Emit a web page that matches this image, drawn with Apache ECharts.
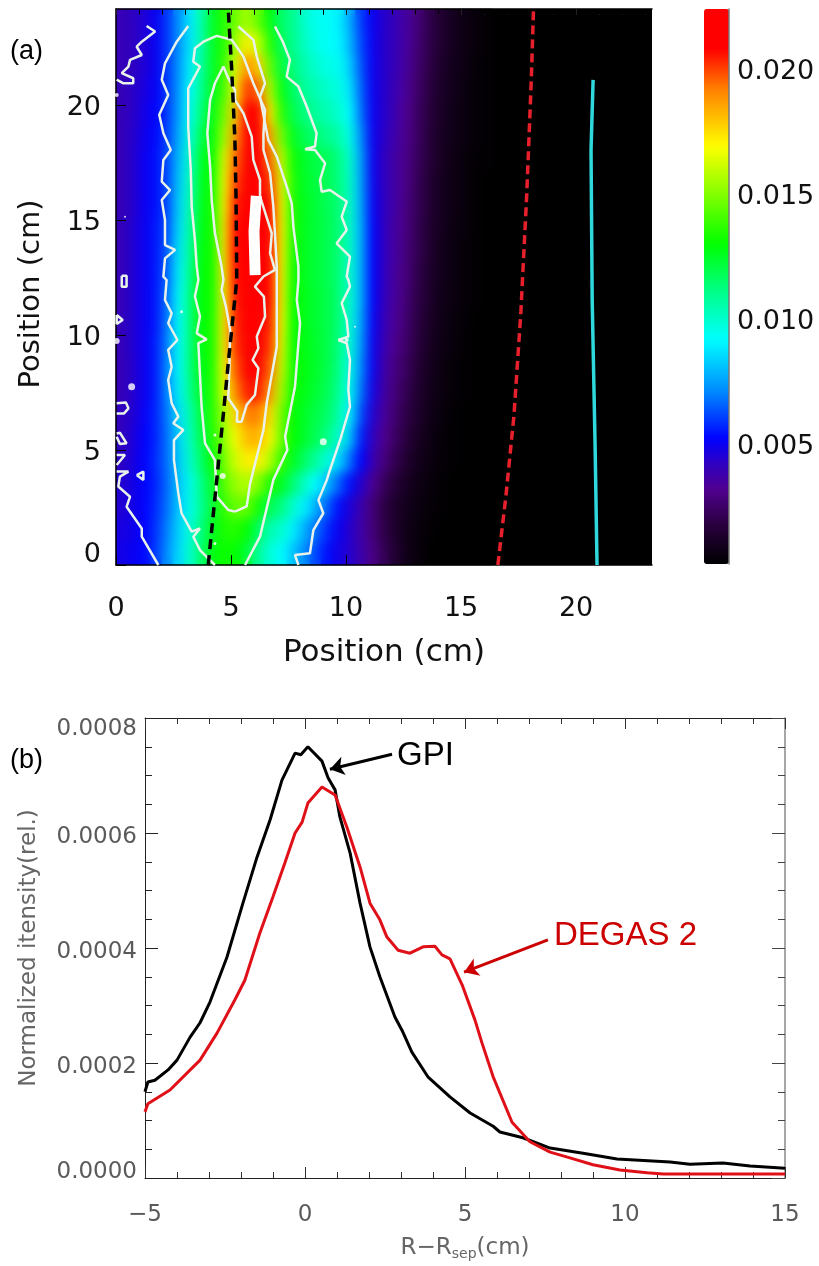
<!DOCTYPE html>
<html>
<head>
<meta charset="utf-8">
<title>GPI vs DEGAS 2</title>
<script src="https://cdn.jsdelivr.net/npm/echarts@6/dist/echarts.min.js"></script>
<style>
html,body{margin:0;padding:0;background:#fff;}
#heat,#main{position:absolute;left:0;top:0;width:819px;height:1266px;}
/* softens the heatmap cells only, axes and lines sit in #main above it */
#soft{position:absolute;left:116px;top:9px;width:536px;height:556px;-webkit-backdrop-filter:blur(6px);backdrop-filter:blur(6px);}
</style>
</head>
<body>
<div id="heat"></div>
<div id="soft"></div>
<div id="main"></div>
<script>
// panel (a): image values in units of 1e-4, rows from top of the image to the bottom,
// columns every ~0.5 cm from the left edge. Everything right of the table is black.
var intensityRows = [
[40,42,46,50,60,72,88,105,125,135,148,155,145,128,115,110,100,95,93,90,78,60,50,44,40,35,28,20,14,10,7,5,3],
[40,42,46,50,60,72,88,105,125,135,155,172,160,135,118,110,102,96,93,91,80,62,50,44,40,35,27,20,14,10,7,5,3],
[40,42,46,50,60,73,90,107,125,137,165,190,178,145,122,113,105,100,96,94,84,64,50,44,40,34,26,19,13,9,7,4,3],
[40,43,47,51,60,74,92,110,126,140,172,202,195,158,128,116,108,104,100,97,88,66,50,44,39,33,25,18,12,9,6,4,3],
[40,43,48,52,60,75,94,114,128,148,180,208,208,172,136,120,112,108,104,100,92,68,50,44,38,32,24,17,12,8,6,4,3],
[40,44,49,53,61,77,97,120,129,155,188,210,212,185,148,126,118,114,110,106,96,72,50,43,37,31,24,16,11,8,6,4,3],
[40,44,50,54,62,80,100,125,130,165,195,212,214,195,160,132,124,120,118,112,100,75,50,42,36,30,23,16,11,7,5,3,3],
[40,44,50,54,62,82,102,126,131,168,200,215,218,202,165,134,125,121,118,113,101,76,50,42,36,30,22,15,10,7,5,3,2],
[40,44,50,54,62,84,104,127,132,170,205,218,222,208,168,134,126,122,118,114,101,77,51,42,36,29,22,15,10,7,5,3,2],
[40,45,50,55,63,86,106,128,132,172,208,222,224,212,170,134,126,122,119,114,101,78,52,42,35,29,21,14,10,6,5,3,2],
[40,45,50,55,65,88,108,129,132,173,208,224,224,212,170,133,126,122,119,114,101,78,52,42,35,28,21,14,9,6,4,3,2],
[40,45,50,55,66,90,110,130,132,173,207,224,224,210,170,132,126,122,119,114,100,78,52,42,34,28,20,13,9,6,4,3,2],
[40,45,50,55,68,92,112,130,132,172,206,224,224,208,169,131,127,123,120,114,100,78,52,41,34,27,19,13,8,6,4,3,2],
[40,45,50,55,69,92,112,130,133,172,204,222,222,205,168,131,127,123,120,114,99,76,51,40,33,26,18,12,8,5,4,2,2],
[40,45,50,56,70,92,112,129,133,172,202,218,218,202,166,131,127,124,120,113,98,74,50,39,31,25,17,11,7,5,3,2,2],
[40,44,50,56,71,92,112,128,133,170,197,212,212,196,162,132,128,124,120,112,96,71,50,37,29,23,15,10,6,4,3,2,2],
[40,44,50,56,71,90,110,126,134,166,190,205,205,188,156,132,127,123,118,110,94,68,48,36,28,21,14,9,6,4,3,2,2],
[41,45,51,57,69,86,104,123,135,157,176,192,192,175,148,130,125,120,116,106,90,62,45,34,26,19,13,8,5,3,2,2,2],
[41,46,52,57,68,84,102,120,134,152,168,182,183,170,146,130,124,118,112,100,82,56,42,32,24,17,11,7,4,3,2,2,2],
[42,47,52,58,68,82,100,116,130,148,162,172,172,158,138,126,116,108,98,86,68,52,39,29,21,14,9,6,4,3,2,2,2],
[44,48,52,57,67,81,95,111,125,143,154,158,150,134,126,114,102,92,80,66,54,44,33,23,16,11,7,5,3,2,2,2,2],
[45,48,52,58,68,82,95,109,123,138,146,146,132,118,112,100,90,78,66,54,46,38,28,19,13,9,6,4,3,2,2,2,2],
[47,49,52,59,70,84,98,112,126,134,136,130,116,104,100,90,78,68,58,50,44,37,28,20,13,8,5,3,2,2,2,2,2],
[48,50,53,60,72,85,100,115,128,132,130,122,108,98,92,82,72,62,54,48,44,38,30,22,14,8,5,2,2,2,2,2,2]
];
var heatCols = 47, heatRows = 24;
var colorTicks = [0.005, 0.010, 0.015, 0.020];
var posTicksX = [0, 5, 10, 15, 20];
var posTicksY = [0, 5, 10, 15, 20];
var posMinorX = [1,2,3,4,6,7,8,9,11,12,13,14,16,17,18,19,21,22,23];
var posMinorY = [1,2,3,4,6,7,8,9,11,12,13,14,16,17,18,19,21,22,23,24];

// white contours, [cm, cm]
var contourRight = [[6.91,23.41],[7.25,22.75],[7.56,21.96],[7.42,21.23],[7.93,20.80],[8.29,19.93],[8.72,18.77],[8.65,18.19],[8.22,18.07],[8.65,18.04],[9.09,17.46],[8.87,16.74],[8.94,16.23],[9.30,16.30],[10.03,15.80],[9.81,15.14],[10.03,14.56],[9.59,13.98],[10.17,13.41],[10.03,12.54],[10.10,12.39],[10.17,12.10],[9.81,11.38],[10.03,10.65],[10.10,9.93],[9.67,9.78],[10.03,9.64],[10.17,8.91],[10.10,7.61],[10.17,6.88],[9.74,5.43],[9.30,4.13],[9.16,3.69],[8.80,2.82],[9.01,2.25],[8.58,1.52],[8.43,0.51],[7.78,0.43],[7.93,0]];
var contourMidRight = [[5.32,23.41],[5.97,22.83],[6.12,22.10],[6.48,20.94],[6.26,20.36],[6.48,19.20],[6.62,18.48],[6.99,17.75],[7.42,16.45],[7.64,15.72],[7.71,14.71],[7.93,12.97],[7.93,12.39],[7.86,11.52],[8.00,10.51],[7.78,7.75],[7.35,5.58],[7.45,5.00],[6.84,3.70],[6.26,1.23],[5.61,0]];
var contourMidLeft = [[3.14,23.43],[2.64,22.75],[2.13,21.81],[1.99,21.09],[2.27,20.43],[1.88,19.57],[2.06,18.77],[2.38,18.04],[2.06,17.61],[1.99,16.67],[2.35,16.30],[1.99,15.87],[2.13,15.00],[2.13,13.91],[2.57,13.70],[2.13,13.33],[2.06,12.54],[2.20,12.39],[2.13,11.52],[2.42,10.94],[2.27,10.51],[2.67,9.78],[2.27,9.35],[2.42,8.62],[2.27,8.04],[2.42,7.03],[2.71,6.45],[2.49,6.16],[2.93,5.87],[2.52,5.43],[2.52,4.56],[2.71,3.11],[2.85,2.25],[3.29,1.45],[3.65,1.59],[3.36,1.23],[3.65,0.65],[4.30,0]];
var contourLoop = [[5.17,2.32],[4.88,2.39],[4.38,2.97],[4.30,4.56],[3.87,5.29],[3.72,6.88],[3.58,9.64],[3.94,9.81],[3.51,10.07],[3.65,10.80],[3.43,11.67],[3.58,12.39],[3.51,12.97],[3.43,14.13],[3.29,15.58],[3.25,17.17],[3.14,19.06],[3.14,20.72],[3.65,21.67],[3.36,21.88],[3.43,22.46],[3.80,22.75],[4.38,23.00],[5.03,22.83],[5.54,22.10],[5.97,20.94],[6.48,19.78],[6.41,18.77],[6.41,18.04],[6.70,17.03],[6.84,15.58],[6.91,14.42],[6.99,12.97],[6.99,12.39],[6.99,9.49],[6.55,7.03],[6.41,5.87],[5.83,3.55],[5.68,2.55],[5.17,2.32]];
var contourInner = [[4.67,21.67],[4.30,20.94],[4.09,20.22],[3.97,18.77],[4.09,17.32],[4.16,15.87],[4.30,14.42],[4.59,12.97],[4.67,12.39],[4.59,11.96],[4.78,11.23],[4.96,10.22],[4.93,8.62],[4.88,7.25],[5.27,6.67],[5.25,6.23],[5.46,6.23],[5.68,6.96],[6.04,7.39],[6.19,8.55],[5.94,8.91],[6.19,9.42],[6.12,9.93],[6.48,10.80],[6.43,11.67],[6.04,12.10],[6.41,12.54],[6.91,12.83],[6.70,13.55],[6.77,14.42],[6.26,16.02],[6.26,16.74],[5.97,17.61],[5.90,18.62],[5.54,19.64],[5.17,20.22],[5.17,20.65],[4.88,21.16],[4.67,21.67]];
var contourTopLeft = [[1.33,23.43],[1.70,23.19],[1.12,22.75],[0.90,22.53],[1.12,22.17],[0.61,21.96],[0.54,21.67],[0.25,21.38],[0.75,21.16],[0.75,20.94],[0.32,20.94],[0.03,21.10]];
var contourLowLeft = [[0.03,4.06],[0.54,4.06],[0.17,3.84],[0.10,3.41],[0.61,2.97],[0.46,2.53],[1.12,1.59],[1.12,1.23],[1.84,0]];
var islandA = [[0.03,10.87],[0.29,10.65],[0.03,10.48],[0.03,10.87]];
var islandB = [[0.03,7.03],[0.43,7.06],[0.54,6.81],[0.35,6.59],[0.03,6.59]];
var islandC = [[0.03,5.72],[0.17,5.75],[0.46,5.29],[0.17,5.26],[0.03,5.58]];
var islandD = [[0.03,4.78],[0.39,4.78],[0.03,4.35]];
var islandE = [[0.90,3.91],[1.19,4.06],[1.19,3.69],[0.90,3.91]];
var islandF = [[0.25,12.57],[0.46,12.57],[0.46,12.10],[0.25,12.10],[0.25,12.57]];
var contourList = [contourRight, contourMidRight, contourMidLeft, contourLoop, contourInner, contourTopLeft, contourLowLeft, islandA, islandB, islandC, islandD, islandE, islandF];
var contourCore = [[6.10,16.05],[6.00,14.50],[6.05,12.60]];
// [x, y, dot size]
var contourDots = [[0.68,7.75,7],[2.85,11.01,3],[4.30,5.65,3],[4.64,3.87,6],[9.01,5.36,7],[10.03,9.78,4],[10.39,10.36,2],[4.30,0.94,3],[0.39,15.14,2],[0.03,9.74,6],[0.03,20.43,4]];

var blackRidge = [[4.01,0],[4.16,1.52],[4.38,3.70],[4.67,6.59],[4.88,8.77],[5.25,12.39],[5.22,15.87],[5.17,18.48],[5.03,21.52],[4.88,24.17]];
var redRidge = [[16.60,0],[16.95,3],[17.30,6.5],[17.60,11],[17.85,16],[18.05,21],[18.15,24.17]];
var cyanLine = [[20.74,21.09],[20.65,18.04],[20.70,11.52],[20.83,5],[20.91,0]];

// panel (b)
var gpiX = [-5,-4.91,-4.69,-4.28,-4,-3.59,-3.28,-2.97,-2.44,-1.94,-1.5,-1.09,-0.72,-0.31,-0.13,0.09,0.53,0.72,0.94,1.09,1.41,1.72,2.03,2.34,2.81,3.03,3.34,3.84,4.53,5.16,5.88,6.09,6.81,7.66,8.69,9.75,11.41,12.03,13.06,13.91,15];
var gpiY = [.000150,.000167,.000170,.000188,.000205,.000245,.000270,.000306,.000384,.000478,.000558,.000623,.000692,.000739,.000736,.000750,.000725,.000696,.000675,.000628,.000565,.000478,.000402,.000350,.000280,.000257,.000219,.000176,.000141,.000113,.000090,.000080,.000070,.000052,.000043,.000033,.000028,.000024,.000026,.000021,.000017];
var degasX = [-5,-4.91,-4.22,-3.28,-2.75,-2.19,-1.88,-1.41,-1,-0.63,-0.31,-0.09,0.09,0.53,0.94,1.31,1.72,2.03,2.34,2.56,2.91,3.28,3.69,4.06,4.28,4.53,4.91,5.31,5.53,5.88,6.47,7.03,7.66,8.28,9,9.84,10.69,11.19,15];
var degasY = [.000115,.000129,.000153,.000205,.000252,.000310,.000344,.000426,.000489,.000548,.000600,.000619,.000652,.000680,.000666,.000610,.000541,.000478,.000449,.000419,.000396,.000391,.000402,.000403,.000388,.000381,.000336,.000275,.000235,.000176,.000097,.000063,.000045,.000035,.000023,.000014,.000009,.000007,.000007];

var colorStops = [[2,'#000000'],[18,'#2a0040'],[32,'#500090'],[42,'#3000c0'],[52,'#0000ff'],[72,'#0090ff'],[92,'#00ffff'],[112,'#00ff80'],[130,'#00ff00'],[169,'#ffff00'],[192,'#ff8000'],[208,'#ff0000'],[224,'#ff0000']];

// visualMap wants evenly spaced colours
function buildPalette(){
    var out = [];
    for(var v = 2; v <= 224; v += 2){
        var i = 0;
        while(i < colorStops.length - 2 && colorStops[i+1][0] < v) i++;
        var a = colorStops[i], b = colorStops[i+1];
        out.push(echarts.color.lerp((v - a[0]) / (b[0] - a[0]), [a[1], b[1]]));
    }
    return out;
}

var heatData = [];
intensityRows.forEach(function(row, r){
    row.forEach(function(v, c){
        heatData.push([c, r, v]);
    });
});
function indexList(n){
    var a = [];
    for(var i = 0; i < n; i++) a.push(i);
    return a;
}

var heatChart = echarts.init(document.getElementById('heat'), null, {renderer:'canvas'});
heatChart.setOption({
    animation:false,
    grid:{left:116, top:9, width:536, height:556, show:true, backgroundColor:'#000', borderWidth:0, outerBoundsMode:'none'},
    xAxis:{type:'category', data:indexList(heatCols), show:false},
    yAxis:{type:'category', data:indexList(heatRows), show:false, inverse:true},
    visualMap:{
        type:'continuous', min:2, max:224, calculable:false, realtime:false, hoverLink:false,
        left:704, top:9, itemWidth:25, itemHeight:555, padding:0, text:['',''], showLabel:false,
        inRange:{color:buildPalette()}, seriesIndex:0, textStyle:{fontSize:0}
    },
    series:[{type:'heatmap', data:heatData, silent:true, progressive:0}]
});

var FONT = 'DejaVu Sans';
var DARK = '#111';
var GREY = '#5a5a5a';

function lineOf(color, width){
    return {onZero:false, lineStyle:{color:color, width:width}};
}
function boxAxis(o){
    return Object.assign({
        nameTextStyle:{fontFamily:FONT},
        splitLine:{show:false},
        axisLine:lineOf('#000', 1.5)
    }, o);
}
function tickOnly(len, values, color){
    return {show:true, inside:true, length:len, customValues:values, lineStyle:{color:color||'#000', width:1}};
}
function posLine(data, color, width, dash){
    return {type:'line', xAxisIndex:0, yAxisIndex:0, data:data, showSymbol:false, silent:true,
        lineStyle:{color:color, width:width, type:dash||'solid'}, z:dash?6:5};
}
// y tick labels sit a little below their ticks, the end ones are pulled inside the box
function nudged(size, color, top, lo, hi){
    function s(pad){ return {fontFamily:FONT, fontSize:size, color:color, padding:pad}; }
    return {n:s([top,0,0,0]), lo:s([0,0,lo,0]), hi:s([hi,0,0,0])};
}

var series = contourList.map(function(c){
    return posLine(c, '#e8f2ea', 2.5);
});
series.push(posLine(contourCore, '#fff', 11));
series.push({type:'scatter', xAxisIndex:0, yAxisIndex:0, silent:true, z:5,
    data:contourDots.map(function(d){ return {value:[d[0], d[1]], symbolSize:d[2]}; }),
    itemStyle:{color:'#fff'}});
series.push(posLine(blackRidge, '#000', 3.5, [10,6]));
series.push(posLine(redRidge, '#e8202c', 3.5, [9,5]));
series.push(posLine(cyanLine, '#2fd8dc', 3.5));

series.push({type:'line', name:'GPI', xAxisIndex:5, yAxisIndex:5, showSymbol:false, silent:true,
    data:gpiX.map(function(x,i){ return [x, gpiY[i]]; }), lineStyle:{color:'#000', width:3},
    markLine:{silent:true, symbol:['none','arrow'], symbolSize:14, label:{show:false},
        lineStyle:{color:'#000', width:3, type:'solid'},
        data:[[{coord:[2.72,.000737]},{coord:[0.78,.000711]}]]}});
series.push({type:'line', name:'DEGAS 2', xAxisIndex:5, yAxisIndex:5, showSymbol:false, silent:true,
    data:degasX.map(function(x,i){ return [x, degasY[i]]; }), lineStyle:{color:'#e01018', width:3},
    markLine:{silent:true, symbol:['none','arrow'], symbolSize:14, label:{show:false},
        lineStyle:{color:'#cc0000', width:3, type:'solid'},
        data:[[{coord:[7.59,.000414]},{coord:[4.97,.000358]}]]}});

var mainChart = echarts.init(document.getElementById('main'));
mainChart.setOption({
    animation:false,
    backgroundColor:'transparent',
    textStyle:{fontFamily:FONT},
    grid:[
        {left:116, top:9, width:536, height:556, outerBoundsMode:'none'},
        {left:704, top:9, width:25, height:555, outerBoundsMode:'none'},
        {left:145, top:718, width:640, height:460, outerBoundsMode:'none'}
    ],
    xAxis:[
        boxAxis({gridIndex:0, type:'value', min:0, max:23.3, position:'bottom', name:'Position (cm)', nameLocation:'middle', nameGap:72,
            nameTextStyle:{fontFamily:FONT, fontSize:31, color:DARK},
            axisTick:tickOnly(10, posTicksX),
            axisLabel:{customValues:posTicksX, fontSize:27, color:DARK, margin:30, fontFamily:FONT}}),
        boxAxis({gridIndex:0, type:'value', min:0, max:23.3, position:'top',
            axisTick:tickOnly(6, posTicksX.concat(posMinorX), '#222'), axisLabel:{show:false}}),
        // a third axis on a used side flips to the other one, so 'top' lands at the bottom
        boxAxis({gridIndex:0, type:'value', min:0, max:23.3, position:'top', axisLine:{show:false, onZero:false},
            axisTick:tickOnly(5, posMinorX), axisLabel:{show:false}}),
        {gridIndex:1, type:'value', show:false, min:0, max:1},
        boxAxis({gridIndex:2, type:'value', min:-5, max:15, interval:5, position:'top',
            axisLine:lineOf('#222', 1),
            axisTick:{show:true, inside:true, length:11, lineStyle:{color:'#333'}},
            minorTick:{show:true, splitNumber:5, length:6, lineStyle:{color:'#333'}},
            axisLabel:{show:false}}),
        boxAxis({gridIndex:2, type:'value', min:-5, max:15, interval:5, position:'bottom',
            name:'{a|R\u2212R}{s|sep}{a|(cm)}', nameLocation:'middle', nameGap:57,
            nameTextStyle:{rich:{a:{fontFamily:FONT, fontSize:23, color:'#666'}, s:{fontFamily:FONT, fontSize:14, color:'#666', verticalAlign:'bottom', padding:[12,0,0,0]}}},
            axisLine:lineOf('#222', 1),
            axisTick:{show:true, inside:true, length:11, lineStyle:{color:'#333'}},
            minorTick:{show:true, splitNumber:5, length:6, lineStyle:{color:'#333'}},
            axisLabel:{fontSize:23, color:GREY, margin:26, fontFamily:FONT, formatter:function(v){ return String(v).replace('-', '\u2212'); }}})
    ],
    yAxis:[
        boxAxis({gridIndex:0, type:'value', min:0, max:24.17, position:'left', name:'Position (cm)', nameLocation:'middle', nameGap:70,
            nameTextStyle:{fontFamily:FONT, fontSize:29, color:DARK, padding:[0,14,0,0]},
            axisTick:tickOnly(10, posTicksY),
            axisLabel:{customValues:posTicksY, margin:15, rich:nudged(27, DARK, 6, 20, 0),
                formatter:function(v){ return (v === 0 ? '{lo|' : '{n|') + v + '}'; }}}),
        {gridIndex:0, type:'value', show:false, min:0, max:24.17, position:'right'},
        // same flip as the x side, 'right' lands on the left
        boxAxis({gridIndex:0, type:'value', min:0, max:24.17, position:'right', axisLine:{show:false, onZero:false},
            axisTick:tickOnly(5, posMinorY), axisLabel:{show:false}}),
        boxAxis({gridIndex:1, type:'value', min:0.0002, max:0.0224, position:'right',
            axisLine:lineOf('#777', 1.5),
            axisTick:{show:false},
            axisLabel:{customValues:colorTicks, margin:8, rich:nudged(27, DARK, 6, 0, 0),
                formatter:function(v){ return '{n|' + v.toFixed(3) + '}'; }}}),
        boxAxis({gridIndex:2, type:'value', min:0, max:0.0008, interval:0.0002, position:'right',
            axisLine:lineOf('#888', 1.5),
            axisTick:{show:true, inside:true, length:13, lineStyle:{color:'#444'}},
            minorTick:{show:true, splitNumber:4, length:7, lineStyle:{color:'#444'}},
            axisLabel:{show:false}}),
        boxAxis({gridIndex:2, type:'value', min:0, max:0.0008, interval:0.0002, position:'left',
            name:'Normalized itensity(rel.)', nameLocation:'middle', nameGap:104,
            nameTextStyle:{fontFamily:FONT, fontSize:23, color:'#666'},
            axisLine:lineOf('#222', 1),
            axisTick:{show:true, inside:true, length:13, lineStyle:{color:'#222'}},
            minorTick:{show:true, splitNumber:4, length:7, lineStyle:{color:'#222'}},
            axisLabel:{margin:8, rich:nudged(23, GREY, 8, 12, 22),
                formatter:function(v){
                    var key = v === 0 ? 'lo' : (v >= 0.0008 ? 'hi' : 'n');
                    return '{' + key + '|' + v.toFixed(4) + '}';
                }}})
    ],
    graphic:[
        {type:'text', left:10, top:38, style:{text:'(a)', fontFamily:'Liberation Sans', fontSize:27, fill:'#000'}},
        {type:'text', left:10, top:747, style:{text:'(b)', fontFamily:'Liberation Sans', fontSize:27, fill:'#000'}},
        {type:'text', left:397, top:739, style:{text:'GPI', fontFamily:'Liberation Sans', fontSize:33, fill:'#000'}},
        {type:'text', left:554, top:919, style:{text:'DEGAS 2', fontFamily:'Liberation Sans', fontSize:33, fill:'#cc0000'}}
    ],
    series:series
});
</script>
</body>
</html>
